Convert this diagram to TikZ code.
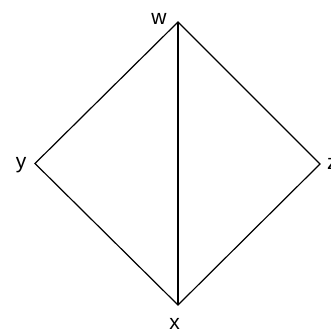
\documentclass[tikz,border=0pt]{standalone}
\usepackage{fontspec}
\setmainfont{Liberation Sans}
\begin{document}
\begin{tikzpicture}[x=1pt,y=-1pt,
  edge/.style={draw=black,line width=1.2pt,line join=miter},
  lbl/.style={inner sep=0pt,anchor=base,font=\fontsize{21}{21}\selectfont}]
\useasboundingbox (0,0) rectangle (330,331);
\coordinate (w) at (178,22);
\coordinate (y) at (35,163.5);
\coordinate (z) at (320,164);
\coordinate (x) at (178,305);
\node[lbl] (lw) at (159,25) {w};
\node[lbl] (ly) at (21,168.5) {y};
\node[lbl,anchor=base west] (lz) at (327,169.5) {z};
\node[lbl] (lx) at (174.5,329.5) {x};
\draw[edge] (w) -- (y) -- (x) -- (z) -- cycle;
\draw[edge] (w) -- (x);
\end{tikzpicture}
\end{document}
